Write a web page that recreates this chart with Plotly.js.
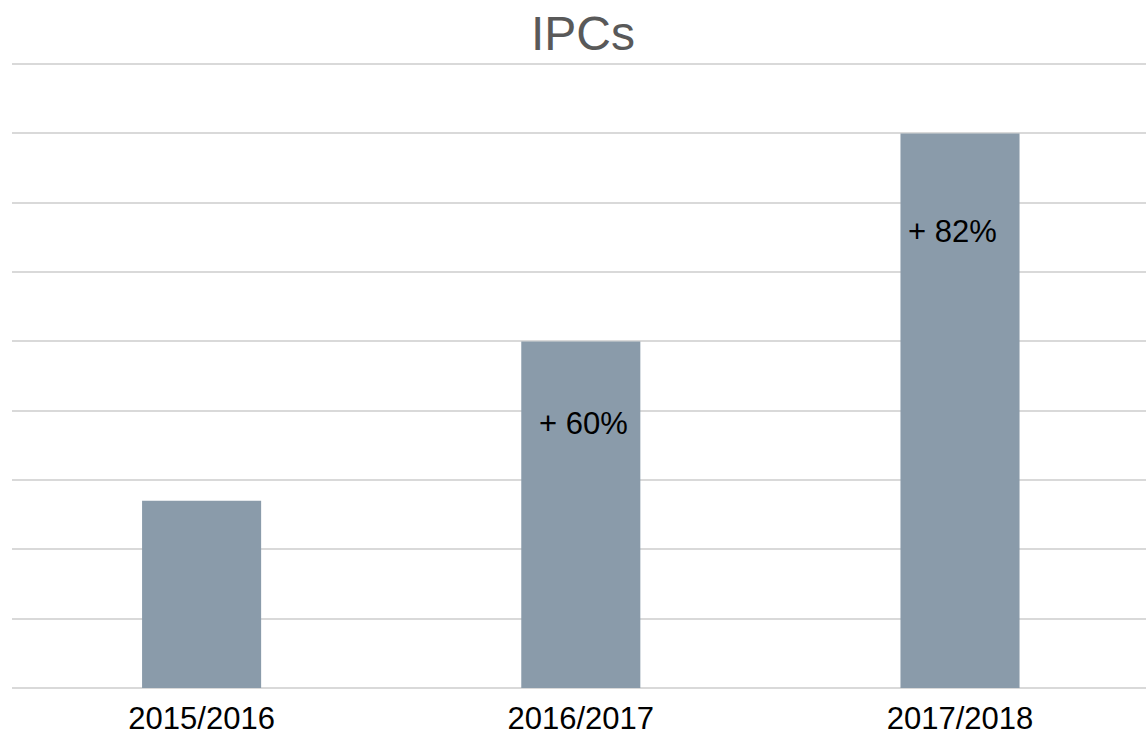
<!DOCTYPE html>
<html>
<head>
<meta charset="utf-8">
<script src="https://cdn.plot.ly/plotly-3.0.1.min.js"></script>
<style>html,body{margin:0;padding:0;background:#fff;}#chart{width:1146px;height:735px;}</style>
</head>
<body>
<div id="chart"></div>
<script>
const categories = ["2015/2016", "2016/2017", "2017/2018"];
const values = [2.7, 5.0, 8.0];
const growthLabels = ["", "+ 60%", "+ 82%"];

const trace = {
  type: "bar",
  x: categories,
  y: values,
  marker: {color: "#8a9baa"},
  width: 0.314,
  hoverinfo: "x+y"
};

const labelY = [null, 3.81, 6.58];
const labelShift = [0, 3, -8];
const annotations = [];
categories.forEach((c, i) => {
  if (growthLabels[i]) {
    annotations.push({
      x: c, y: labelY[i], xref: "x", yref: "y",
      text: growthLabels[i], showarrow: false,
      xshift: labelShift[i],
      font: {family: "Liberation Sans, Arial, sans-serif", size: 31, color: "#000"}
    });
  }
});

const layout = {
  width: 1146, height: 735,
  margin: {l: 12, r: 0, t: 62, b: 47},
  paper_bgcolor: "#fff", plot_bgcolor: "#fff",
  showlegend: false,
  title: {
    text: "IPCs",
    font: {family: "Liberation Sans, Arial, sans-serif", size: 48, color: "#595959"},
    x: 0.5087, xanchor: "center", y: 0.955, yref: "container", yanchor: "middle"
  },
  xaxis: {
    type: "category",
    range: [-0.5, 2.4905],
    showgrid: false, zeroline: false, showline: false,
    ticks: "", ticklabelstandoff: 9,
    tickfont: {family: "Liberation Sans, Arial, sans-serif", size: 31, color: "#000"}
  },
  yaxis: {
    range: [0, 9.03],
    dtick: 1, tick0: 0,
    showticklabels: false, ticks: "",
    showgrid: true, gridcolor: "#d9d9d9", gridwidth: 2,
    zeroline: true, zerolinecolor: "#d9d9d9", zerolinewidth: 2,
    showline: false
  },
  annotations: annotations
};

Plotly.newPlot("chart", [trace], layout, {displayModeBar: false, staticPlot: true});
</script>
</body>
</html>
